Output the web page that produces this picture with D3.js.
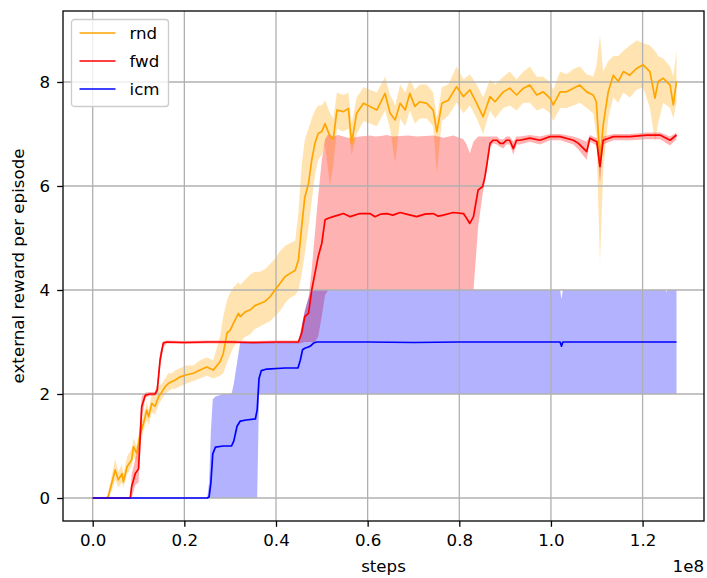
<!DOCTYPE html>
<html lang="en">
<head>
<meta charset="UTF-8">
<title>external reward per episode</title>
<script src="https://d3js.org/d3.v7.min.js"></script>
<style>
  body { margin: 0; background: #fff; }
  svg text { font-family: "DejaVu Sans", sans-serif; fill: #000; }
</style>
</head>
<body>
<div id="chart"></div>
<script>
// each row: [steps (millions), mean, low, high]
const rnd = [
  [0,0,0,0],[3.0,0,0,0],[3.4,0.03,0,0.12],[4.2,0.30,0.15,0.45],[4.9,0.54,0.35,0.75],
  [5.6,0.35,0.2,0.5],[6.4,0.47,0.3,0.65],[6.7,0.31,0.2,0.45],[7.5,0.60,0.45,0.8],
  [8.5,0.73,0.6,0.95],[8.9,0.99,0.8,1.15],[9.6,0.86,0.7,1.0],[10.4,1.24,1.05,1.4],
  [11.1,1.44,1.3,1.6],[11.8,1.69,1.5,1.85],[12.2,1.56,1.4,1.7],[12.9,1.82,1.65,2.0],
  [13.6,1.76,1.6,1.95],[14.4,1.95,1.8,2.15],[15.1,2.04,1.9,2.2],[15.8,2.14,2.0,2.3],
  [16.5,2.20,2.05,2.4],[17.3,2.24,2.1,2.4],[18.0,2.27,2.1,2.45],[19.1,2.33,2.15,2.5],
  [20.5,2.37,2.2,2.55],[22.0,2.40,2.25,2.55],[23.4,2.46,2.3,2.65],[24.9,2.52,2.35,2.7],
  [26.3,2.46,2.3,2.65],[27.8,2.62,2.35,3.1],[28.5,2.78,2.4,3.5],[29.3,3.17,2.6,3.8],
  [30.0,3.23,2.75,3.95],[30.7,3.36,2.9,4.05],[31.8,3.55,3.05,4.15],[32.2,3.49,3.0,4.1],
  [33.3,3.58,3.1,4.2],[34.4,3.62,3.15,4.3],[35.4,3.70,3.25,4.35],[36.5,3.74,3.3,4.35],
  [37.6,3.78,3.35,4.4],[38.7,3.87,3.4,4.5],[39.8,4.00,3.5,4.6],[40.9,4.13,3.6,4.75],
  [42.0,4.26,3.75,4.85],[43.1,4.32,3.85,4.9],[44.2,4.38,3.9,4.95],[44.9,4.58,4.0,5.5],
  [45.6,5.22,4.3,6.4],[46.3,5.79,4.7,6.9],[47.1,6.05,5.2,7.1],[47.8,6.50,5.7,7.3],
  [48.5,6.82,6.2,7.45],[49.2,7.01,6.5,7.55],[50.0,7.05,6.6,7.55],[50.7,7.20,6.8,7.65],
  [51.8,6.95,6.0,7.4],[52.5,6.90,6.4,7.3],[53.3,7.46,7.1,7.8],[54.7,7.43,7.05,7.75],
  [55.8,7.49,7.1,7.8],[56.5,6.82,6.6,7.2],[57.6,7.40,7.0,7.7],[59.1,7.59,7.25,7.9],
  [60.5,7.53,7.2,7.85],[62.0,7.46,7.15,7.8],[63.8,7.78,7.45,8.1],[64.9,7.40,7.1,7.75],
  [66.0,7.27,6.45,7.55],[67.1,7.59,7.3,7.95],[68.2,7.46,7.15,7.8],[69.2,7.78,7.45,8.05],
  [70.3,7.53,7.2,7.85],[71.4,7.62,7.3,7.95],[72.9,7.59,7.3,7.95],[74.3,7.46,7.15,7.8],
  [75.1,7.04,6.25,7.3],[76.2,7.59,7.25,7.9],[77.6,7.65,7.35,7.95],[79.4,7.91,7.6,8.3],
  [80.9,7.72,7.4,8.05],[82.3,7.85,7.55,8.15],[83.8,7.59,7.3,7.95],[85.2,7.33,7.0,7.7],
  [86.7,7.72,7.45,8.05],[87.8,7.62,7.3,7.95],[89.6,7.81,7.5,8.1],[91.0,7.88,7.55,8.2],
  [92.5,7.75,7.45,8.05],[94.0,7.88,7.6,8.2],[95.4,7.94,7.6,8.3],[96.9,7.75,7.45,8.1],
  [98.3,7.81,7.5,8.1],[99.8,7.69,7.4,8.0],[100.5,7.56,7.25,7.85],[102.0,7.81,7.5,8.2],
  [103.4,7.81,7.5,8.15],[104.9,7.88,7.55,8.25],[106.3,7.94,7.6,8.3],[107.8,7.81,7.5,8.15],
  [109.2,7.75,7.4,8.1],[109.9,7.62,7.0,8.3],[110.7,6.50,4.5,8.9],[111.4,7.17,6.3,8.2],
  [112.5,7.81,7.3,8.4],[113.6,8.13,7.7,8.5],[114.7,8.01,7.6,8.5],[115.8,8.20,7.8,8.6],
  [117.2,8.13,7.7,8.7],[118.7,8.26,7.85,8.8],[120.1,8.33,7.9,8.75],[121.6,8.20,7.5,8.7],
  [122.7,7.69,6.85,8.6],[123.4,8.01,7.2,8.5],[124.5,8.07,7.6,8.45],[126.0,7.94,7.5,8.3],
  [126.7,7.56,7.3,8.1],[127.4,8.01,7.6,8.6]
];

const fwd = [
  [0,0,0,0],[8.2,0,0,0],[8.5,0.22,0,0.45],[9.3,0.47,0.25,0.75],[10.0,0.56,0.3,1.0],
  [10.4,1.24,0.9,1.6],[10.7,1.76,1.5,1.95],[11.5,1.98,1.93,2.03],[12.5,2.00,1.96,2.04],
  [13.6,2.00,1.96,2.04],[14.1,2.08,2.0,2.2],[14.7,2.65,2.5,2.8],[15.4,2.98,2.9,3.02],
  [16.2,3.00,2.97,3.03],[20.0,2.99,2.96,3.02],[25.0,3.00,2.97,3.03],[30.0,3.00,2.97,3.03],
  [35.0,2.99,2.96,3.02],[40.0,3.00,2.97,3.03],[44.9,3.00,2.97,3.03],[45.6,3.17,2.98,3.3],
  [46.3,3.49,3.0,3.6],[47.1,3.55,3.0,3.85],[47.8,4.00,3.0,4.4],[48.5,4.32,3.0,5.1],
  [49.2,4.64,3.1,5.8],[50.0,4.90,3.5,6.5],[50.7,5.35,3.9,6.9],[51.4,5.38,4.0,7.0],
  [52.5,5.41,4.0,6.95],[53.6,5.44,4.0,6.98],[54.7,5.47,4.0,6.95],[56.2,5.41,4.0,6.92],
  [58.3,5.47,4.0,6.95],[60.5,5.47,4.0,6.97],[61.6,5.41,4.0,6.95],[62.9,5.46,4.0,6.96],
  [64.2,5.47,4.0,6.98],[65.5,5.44,4.0,6.95],[67.1,5.49,4.0,6.96],[68.9,5.45,4.0,6.97],
  [70.7,5.41,4.0,6.95],[72.5,5.46,4.0,6.96],[74.3,5.47,4.0,6.97],[75.4,5.42,4.0,6.95],
  [76.5,5.44,4.0,6.93],[78.7,5.49,4.0,6.97],[80.9,5.47,4.0,6.9],[81.6,5.38,4.0,6.8],
  [82.3,5.28,4.0,6.63],[83.1,5.41,4.0,6.85],[84.1,5.92,5.2,6.95],[85.1,5.99,5.85,6.95],
  [85.6,6.18,6.1,6.95],[86.0,6.40,6.3,6.95],[86.7,6.82,6.75,6.95],[87.4,6.88,6.82,6.95],
  [88.2,6.88,6.8,6.95],[88.9,6.82,6.75,6.9],[89.6,6.82,6.72,6.9],[90.3,6.88,6.8,6.95],
  [91.0,6.88,6.8,6.95],[91.8,6.72,6.6,6.85],[92.5,6.88,6.8,6.95],[93.2,6.88,6.8,6.95],
  [95.4,6.92,6.85,6.98],[97.6,6.88,6.8,6.95],[99.8,6.95,6.88,7.0],[102.0,6.95,6.88,7.0],
  [104.9,6.88,6.8,6.95],[106.0,6.82,6.7,6.92],[107.8,6.66,6.5,6.85],[108.5,6.92,6.85,6.98],
  [110.0,6.85,6.78,6.92],[110.7,6.37,6.05,6.75],[111.4,6.88,6.8,6.95],[113.6,6.95,6.88,7.0],
  [117.2,6.95,6.88,7.0],[120.9,6.98,6.9,7.03],[123.8,6.98,6.9,7.03],[126.0,6.88,6.78,6.95],
  [127.4,6.98,6.9,7.03]
];

const icm = [
  [0,0,0,0],[25.0,0,0,0],[25.4,0.02,0,0.3],[25.8,0.30,0,1.3],[26.2,0.85,0,1.9],
  [26.8,0.98,0,1.95],[28.5,1.00,0,2.0],[30.3,1.00,0,2.0],[30.8,1.10,0,2.2],
  [31.5,1.38,0,2.6],[32.2,1.48,0,3.0],[33.5,1.50,0,3.0],[35.5,1.52,0,3.0],
  [35.9,1.70,0,3.0],[36.3,2.30,2.0,3.0],[36.8,2.45,2.0,3.0],[38.0,2.48,2.0,3.0],
  [42.0,2.50,2.0,3.0],[44.8,2.50,2.0,3.0],[45.3,2.65,2.0,3.1],[45.8,2.85,2.0,3.4],
  [46.3,2.88,2.0,3.6],[46.9,2.90,2.0,3.8],[47.5,2.92,2.0,3.95],[48.2,2.98,2.0,4.0],
  [48.9,3.00,2.0,4.0],[60.0,3.00,2.0,4.0],[70.0,2.99,2.0,4.0],[80.0,3.00,2.0,4.0],
  [90.0,3.00,2.0,4.0],[102.0,3.00,2.0,4.0],[102.3,2.92,2.0,3.82],[102.6,3.00,2.0,4.0],
  [115.0,3.00,2.0,4.0],[125.0,3.00,2.0,4.0],[125.2,3.00,2.0,3.95],[125.4,3.00,2.0,4.0],
  [127.4,3.00,2.0,4.0]
];

const seriesNames = ["rnd", "fwd", "icm"];
const seriesColors = ["orange", "red", "blue"];
const xTicks = [0, 20, 40, 60, 80, 100, 120];
const yTicks = [0, 2, 4, 6, 8];

var width = 707, height = 578;
var margin = {top: 11, right: 3, bottom: 57, left: 63};
var fontSize = 16.67;

var svg = d3.select("#chart").append("svg")
    .attr("width", width)
    .attr("height", height);

var x = d3.scaleLinear().domain([-6.48, 133.4]).range([margin.left, width - margin.right]);
var y = d3.scaleLinear().domain([-0.442, 9.365]).range([height - margin.bottom, margin.top]);

var data = [rnd, fwd, icm];

svg.append("defs").append("clipPath").attr("id", "plot")
  .append("rect")
    .attr("x", margin.left).attr("y", margin.top)
    .attr("width", width - margin.left - margin.right)
    .attr("height", height - margin.top - margin.bottom);

var plot = svg.append("g").attr("clip-path", "url(#plot)");

// shaded bands first
var band = d3.area()
    .x(function(d) { return x(d[0]); })
    .y0(function(d) { return y(d[2]); })
    .y1(function(d) { return y(d[3]); });

data.forEach(function(s, i) {
  plot.append("path")
    .datum(s)
    .attr("fill", seriesColors[i])
    .attr("fill-opacity", 0.3)
    .attr("d", band);
});

// grid sits above the bands but under the lines
plot.append("g").selectAll("line").data(xTicks).enter().append("line")
    .attr("x1", d => x(d)).attr("x2", d => x(d))
    .attr("y1", margin.top).attr("y2", height - margin.bottom)
    .attr("stroke", "#b0b0b0").attr("stroke-width", 1.3);
plot.append("g").selectAll("line").data(yTicks).enter().append("line")
    .attr("y1", d => y(d)).attr("y2", d => y(d))
    .attr("x1", margin.left).attr("x2", width - margin.right)
    .attr("stroke", "#b0b0b0").attr("stroke-width", 1.3);

var line = d3.line()
    .x(function(d) { return x(d[0]); })
    .y(function(d) { return y(d[1]); });

data.forEach(function(s, i) {
  plot.append("path")
    .datum(s)
    .attr("fill", "none")
    .attr("stroke", seriesColors[i])
    .attr("stroke-width", 1.7)
    .attr("stroke-linejoin", "round")
    .attr("d", line);
});

// axes
var xAxis = svg.append("g")
    .attr("transform", "translate(0," + (height - margin.bottom) + ")")
    .call(d3.axisBottom(x).tickValues(xTicks)
      .tickFormat(d => (d / 100).toFixed(1))
      .tickSize(5.8).tickPadding(7.4));
var yAxis = svg.append("g")
    .attr("transform", "translate(" + margin.left + ",0)")
    .call(d3.axisLeft(y).tickValues(yTicks).tickSize(5.8).tickPadding(7));

[xAxis, yAxis].forEach(function(a) {
  a.select(".domain").remove();
  a.selectAll(".tick line").attr("stroke", "#000").attr("stroke-width", 1.3);
  a.selectAll(".tick text").style("font-size", fontSize + "px").attr("fill", "#000");
});

// frame
svg.append("rect")
    .attr("x", margin.left).attr("y", margin.top)
    .attr("width", width - margin.left - margin.right)
    .attr("height", height - margin.top - margin.bottom)
    .attr("fill", "none").attr("stroke", "#000").attr("stroke-width", 1.3);

svg.append("text")
    .attr("x", (margin.left + width - margin.right) / 2)
    .attr("y", 572)
    .attr("text-anchor", "middle")
    .style("font-size", fontSize + "px")
    .text("steps");

svg.append("text")
    .attr("x", width - margin.right)
    .attr("y", 572)
    .attr("text-anchor", "end")
    .style("font-size", fontSize + "px")
    .text("1e8");

svg.append("text")
    .attr("transform", "translate(24," + (margin.top + height - margin.bottom) / 2 + ") rotate(-90)")
    .attr("text-anchor", "middle")
    .style("font-size", fontSize + "px")
    .text("external reward per episode");

// legend
var legend = svg.append("g").attr("transform", "translate(71.5,19.5)");
legend.append("rect")
    .attr("width", 97).attr("height", 87).attr("rx", 3)
    .attr("fill", "#fff").attr("fill-opacity", 0.8)
    .attr("stroke", "#cccccc").attr("stroke-width", 1.3);

seriesNames.forEach(function(name, i) {
  var row = legend.append("g").attr("transform", "translate(0," + (13.5 + i * 28) + ")");
  row.append("line")
    .attr("x1", 8).attr("x2", 44)
    .attr("stroke", seriesColors[i]).attr("stroke-width", 1.7);
  row.append("text")
    .attr("x", 58).attr("dy", "0.35em")
    .style("font-size", fontSize + "px")
    .text(name);
});
</script>
</body>
</html>
